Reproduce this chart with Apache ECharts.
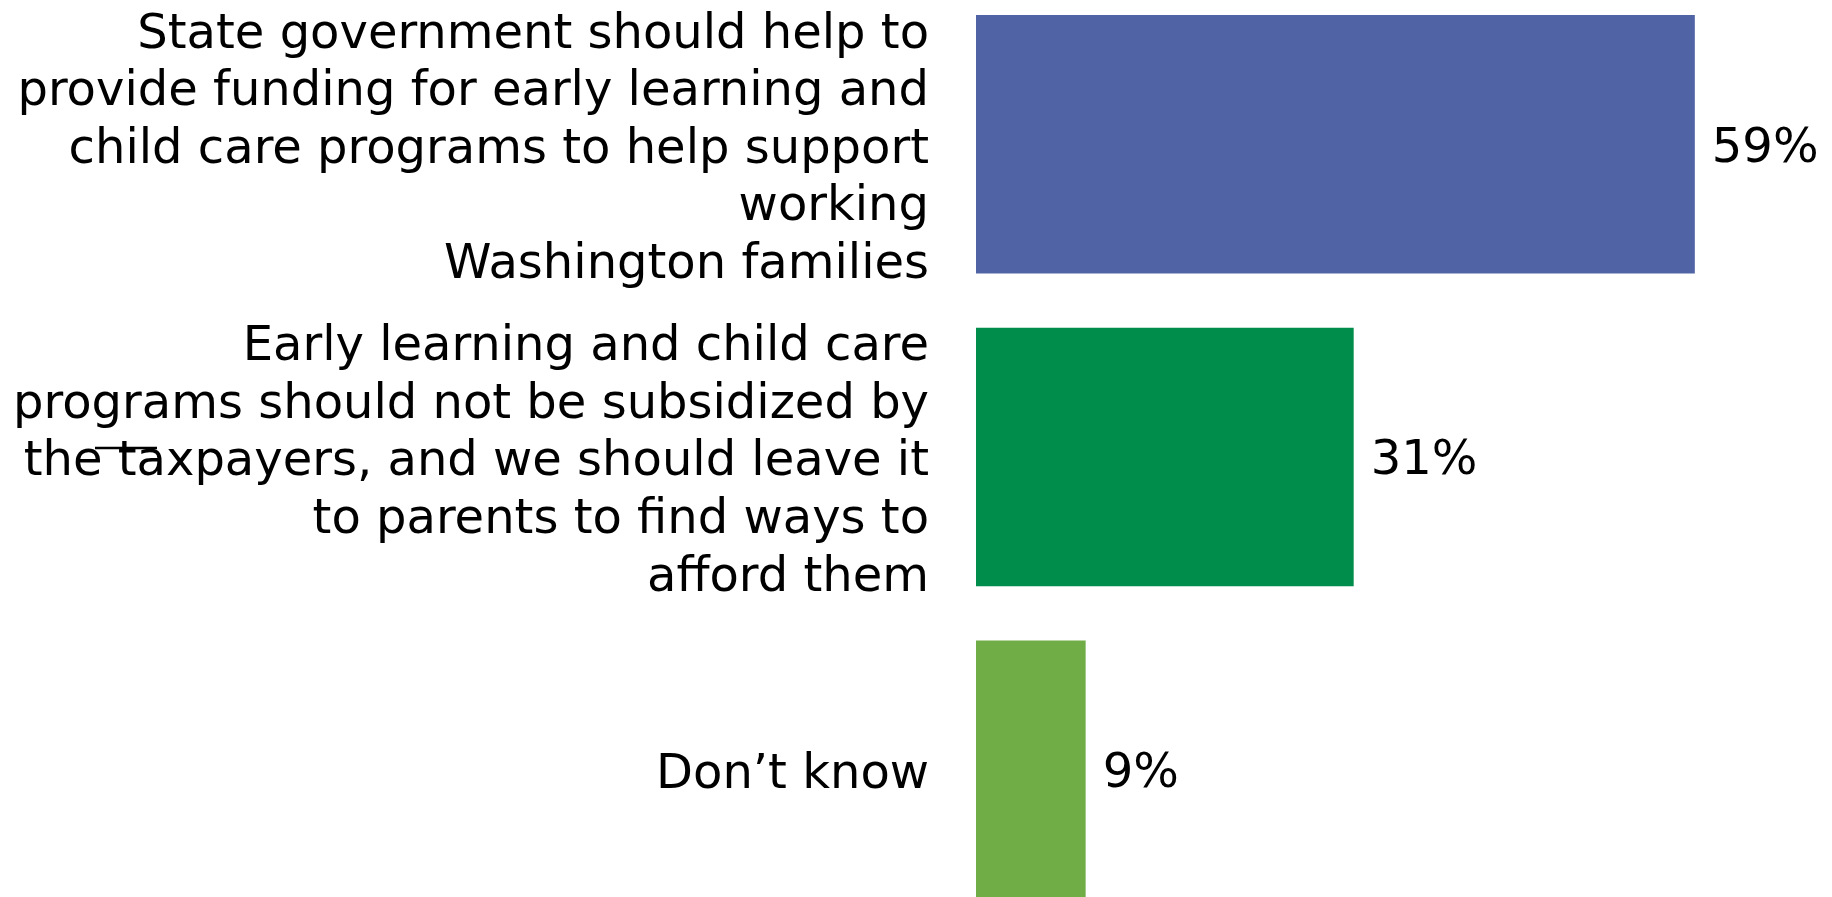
<!DOCTYPE html>
<html>
<head>
<meta charset="utf-8">
<style>
  html, body { margin: 0; padding: 0; background: #ffffff; overflow: hidden; width: 1832px; height: 897px; }
  /* the plot runs slightly past the top and bottom edges of the page */
  #chart { position: absolute; left: 0; top: -12px; width: 1832px; height: 938px; }
</style>
<script src="https://cdn.jsdelivr.net/npm/echarts@6/dist/echarts.min.js"></script>
</head>
<body>
<div id="chart"></div>
<script>
// Survey answers, top to bottom
const categories = [
  'State government should help to\nprovide funding for early learning and\nchild care programs to help support\nworking\nWashington families',
  'Early learning and child care\nprograms should not be subsidized by\nthe taxpayers, and we should leave it\nto parents to find ways to\nafford them',
  'Don\u2019t know'
];
// Share of respondents, percent
const values = [59, 31, 9];
// Fill per answer
const barColors = ['#5064A5', '#008C4A', '#70AD47'];

const FONT = '"DejaVu Sans", Verdana, sans-serif';

const chart = echarts.init(document.getElementById('chart'), null, { renderer: 'canvas' });

chart.setOption({
  backgroundColor: '#ffffff',
  animation: false,
  grid: { left: 976, width: 731, top: 0, bottom: 0, containLabel: false },
  xAxis: {
    type: 'value',
    min: 0,
    max: 60,
    show: false
  },
  yAxis: {
    type: 'category',
    inverse: true,
    data: categories,
    axisLine: { show: false },
    axisTick: { show: false },
    splitLine: { show: false },
    axisLabel: {
      margin: 47,
      color: '#000000',
      fontFamily: FONT,
      fontSize: 48,
      lineHeight: 57.6,
      align: 'right',
      // rich layout so the top padding nudges each block slightly downward
      padding: [12, 0, 0, 0],
      formatter: (v) => '{t|' + v + '}',
      rich: {
        t: {
          color: '#000000',
          fontFamily: FONT,
          fontSize: 48,
          lineHeight: 57.6,
          align: 'right'
        }
      }
    }
  },
  series: [{
    type: 'bar',
    barCategoryGap: '17.3%',
    data: values.map((v, i) => ({ value: v, itemStyle: { color: barColors[i] } })),
    label: {
      show: true,
      position: 'right',
      distance: 17,
      offset: [0, 5],
      formatter: '{c}%',
      color: '#000000',
      fontFamily: FONT,
      fontSize: 48
    }
  }],
  graphic: [{
    // short rule stroke over "the taxpayers" (chart box sits 12px above the page)
    type: 'line',
    shape: { x1: 95, y1: 460, x2: 157, y2: 460 },
    style: { stroke: '#000000', lineWidth: 2.5 }
  }]
});
</script>
</body>
</html>
